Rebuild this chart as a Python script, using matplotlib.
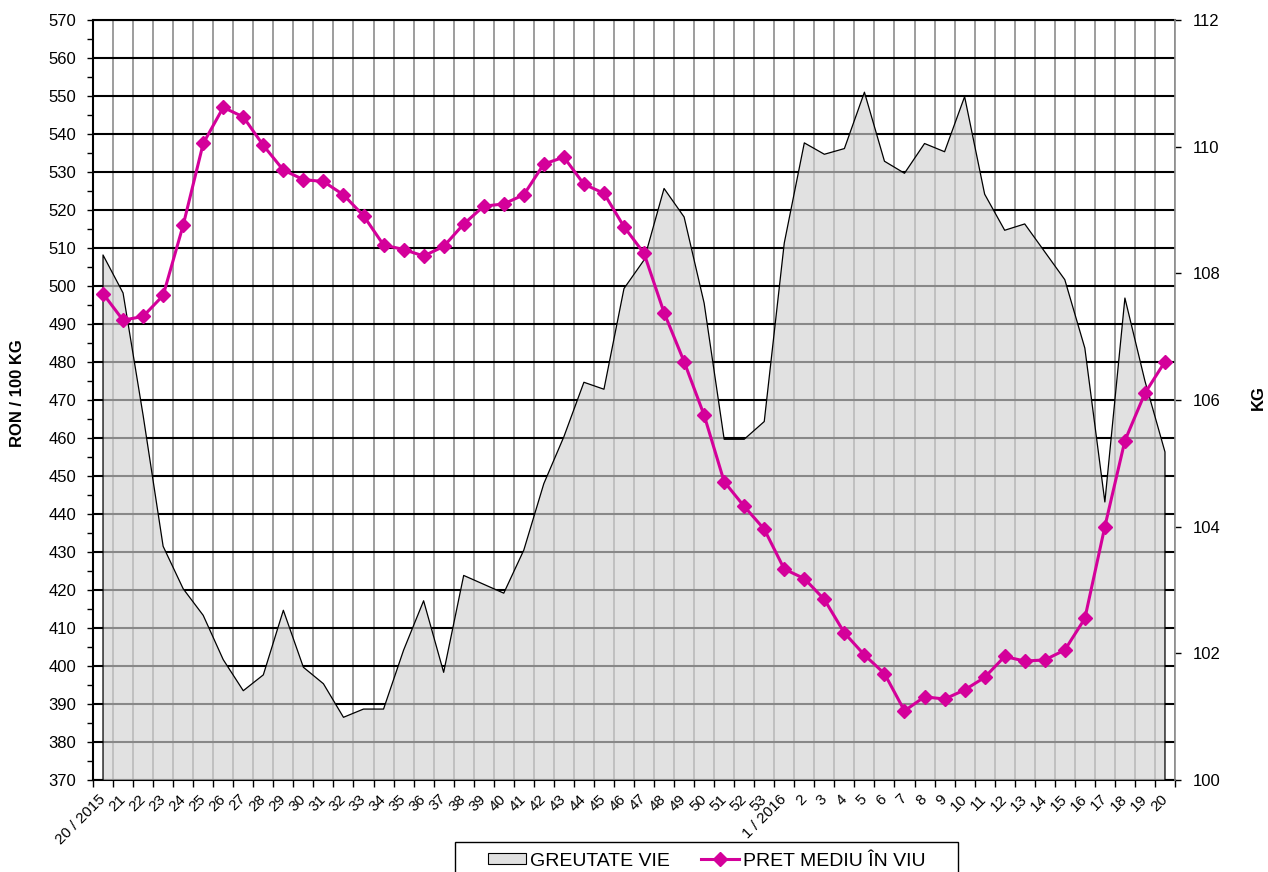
import matplotlib
matplotlib.use("Agg")
import matplotlib.pyplot as plt
from matplotlib.patches import Patch, Rectangle
from matplotlib.lines import Line2D

plt.rcParams['font.family'] = ['Liberation Sans', 'DejaVu Sans']

# ---------------- data ----------------
week_labels = ['20 / 2015', '21', '22', '23', '24', '25', '26', '27', '28', '29',
               '30', '31', '32', '33', '34', '35', '36', '37', '38', '39',
               '40', '41', '42', '43', '44', '45', '46', '47', '48', '49',
               '50', '51', '52', '53', '1 / 2016', '2', '3', '4', '5', '6',
               '7', '8', '9', '10', '11', '12', '13', '14', '15', '16',
               '17', '18', '19', '20']

# PRET MEDIU IN VIU (RON / 100 KG, left axis)
price = [498, 491, 492, 497.5, 516, 537.5, 547, 544.5, 537, 530.5,
         528, 527.5, 524, 518.5, 510.8, 509.6, 507.9, 510.4, 516.3, 521,
         521.6, 524, 532.1, 533.9, 526.8, 524.4, 515.6, 508.6, 493, 480.1,
         466, 448.5, 442, 436, 425.5, 423, 417.5, 408.7, 402.9, 398,
         388.2, 391.9, 391.3, 393.7, 397, 402.5, 401.3, 401.6, 404.2, 412.5,
         436.7, 459.3, 471.8, 480.1]

# GREUTATE VIE (KG, right axis)
weight = [108.29, 107.69, 105.76, 103.69, 103.02, 102.60, 101.90, 101.41, 101.66, 102.68,
          101.78, 101.52, 100.99, 101.12, 101.12, 102.05, 102.83, 101.70, 103.23, 103.09,
          102.95, 103.63, 104.68, 105.42, 106.28, 106.17, 107.76, 108.21, 109.34, 108.89,
          107.53, 105.38, 105.38, 105.66, 108.48, 110.06, 109.88, 109.97, 110.86, 109.77,
          109.58, 110.05, 109.92, 110.79, 109.25, 108.68, 108.78, 108.34, 107.90, 106.82,
          104.39, 107.61, 106.30, 105.18]

legend_labels = ['GREUTATE VIE', 'PRET MEDIU ÎN VIU']
left_label = 'RON / 100 KG'
right_label = 'KG'

# ---------------- styles ----------------
MAGENTA = '#D4009A'
W, H = 1268, 872

fig = plt.figure(figsize=(W / 100, H / 100), dpi=100)
ax = fig.add_axes([93 / W, 1 - 780 / H, 1082 / W, 760 / H])
ax2 = ax.twinx()   # KG axis (area)
ax3 = ax.twinx()   # price line on top

n = len(week_labels)
x = list(range(n))

# ---- base axes: grid + left scale ----
ax.set_xlim(-0.5, n - 0.5)
ax.set_ylim(370, 570)
ax.set_yticks(range(370, 571, 10))
ax.set_yticks(range(375, 570, 10), minor=True)
ax.tick_params(axis='y', which='major', direction='out', length=4, width=1,
               labelsize=12, pad=8, colors='black')
ax.tick_params(axis='y', which='minor', direction='out', length=4, width=1)
ax.yaxis.grid(True, which='major', color='black', lw=1.5)

bounds = [i - 0.5 for i in range(n + 1)]
ax.set_xticks(bounds)
ax.set_xticklabels([])
ax.set_xticks(x, minor=True)
ax.set_xticklabels(week_labels, minor=True, rotation=45, ha='right', va='center',
                   rotation_mode='anchor', fontsize=11)
ax.tick_params(axis='x', which='major', direction='out', length=5, width=1)
ax.tick_params(axis='x', which='minor', length=0, pad=12)
ax.xaxis.grid(True, which='major', color='#8c8c8c', lw=1.2)
ax.set_axisbelow(True)

for s in ['top', 'left', 'bottom']:
    ax.spines[s].set_color('black')
    ax.spines[s].set_linewidth(1.5)
ax.spines['right'].set_visible(False)

# ---- area on KG axis ----
ax2.set_ylim(100, 112)
ax2.set_yticks(range(100, 113, 2))
ax2.tick_params(axis='y', direction='out', length=4, width=1, labelsize=12, pad=9)
ax2.fill_between(x, 100, weight, facecolor='#d2d2d2', alpha=0.65, edgecolor='none',
                 zorder=1)
ax2.plot([x[0]] + x + [x[-1]], [100] + weight + [100], color='black', lw=0.9,
         zorder=2)
for s in ['top', 'left', 'bottom']:
    ax2.spines[s].set_visible(False)
ax2.spines['right'].set_color('#8c8c8c')
ax2.spines['right'].set_linewidth(1.2)

# ---- price line ----
ax3.set_ylim(370, 570)
ax3.plot(x, price, color=MAGENTA, lw=2.2, marker='D', ms=7, mec=MAGENTA,
         mfc=MAGENTA, zorder=3, clip_on=False)
ax3.set_yticks([])
for s in ax3.spines.values():
    s.set_visible(False)

# ---- axis titles ----
fig.text(18 / W, 1 - 393 / H, left_label, rotation=90, ha='center', va='center',
         fontsize=12, fontweight='bold')
fig.text(1258 / W, 1 - 398 / H, right_label, rotation=90, ha='center', va='center',
         fontsize=12, fontweight='bold')

# ---- legend ----
handles = [Patch(facecolor='#e0e0e0', edgecolor='black', lw=0.8),
           Line2D([], [], color=MAGENTA, lw=2.2, marker='D', ms=7)]
leg = fig.legend(handles, legend_labels, loc='center left',
                 bbox_to_anchor=(488 / W, 1 - 861 / H), ncol=2, frameon=False,
                 fontsize=14, handlelength=1.95, handleheight=0.5,
                 handletextpad=0.2, columnspacing=1.6, borderpad=0,
                 borderaxespad=0)
fig.patches.append(Rectangle((455 / W, -0.05), 503 / W, 0.05 + 1 - 842 / H,
                             transform=fig.transFigure, fill=False,
                             edgecolor='black', lw=1))

fig.savefig('out.png', dpi=100)
